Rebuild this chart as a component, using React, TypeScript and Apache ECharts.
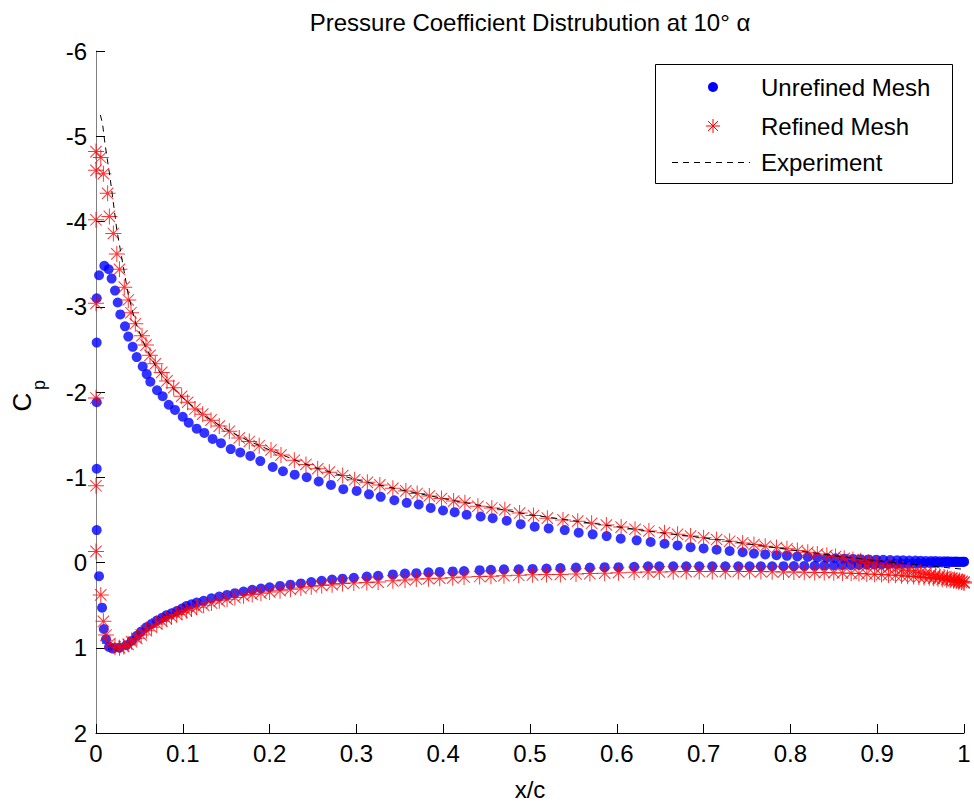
import React, { useEffect, useRef } from "react";
import * as echarts from "echarts";

const TITLE = "Pressure Coefficient Distrubution at 10° α";
const X_NAME = "x/c";
const LEGEND_LABELS = ["Unrefined Mesh", "Refined Mesh", "Experiment"];

// Unrefined mesh (blue dots) — nose region
const unrefinedNose: number[][] = [
  [0.0008, -3.10], [0.0008, -2.58], [0.0008, -1.88], [0.0008, -1.10], [0.0008, -0.38],
  [0.0035, 0.16], [0.007, 0.53], [0.009, 0.78], [0.0115, 0.90], [0.015, 0.99], [0.0196, 1.01],
];

// Unrefined mesh — upper (suction) surface
const unrefinedUpper: number[][] = [
  [0.0035, -3.37], [0.0096, -3.48], [0.0146, -3.44], [0.018, -3.33], [0.0219, -3.19], [0.025, -3.05],
  [0.028, -2.91], [0.0334, -2.77], [0.0372, -2.65], [0.0423, -2.53], [0.0469, -2.41], [0.0538, -2.30],
  [0.0584, -2.21], [0.0626, -2.12], [0.0703, -2.02], [0.0768, -1.95], [0.0838, -1.85], [0.091, -1.79],
  [0.0999, -1.71], [0.1068, -1.64], [0.116, -1.57], [0.1248, -1.52], [0.1344, -1.45], [0.144, -1.40],
  [0.1552, -1.33], [0.1662, -1.29], [0.1778, -1.25], [0.1893, -1.19], [0.2036, -1.12], [0.2154, -1.07],
  [0.2289, -1.03], [0.2427, -1.00], [0.2566, -0.95], [0.2707, -0.91], [0.2849, -0.86], [0.3003, -0.84],
  [0.3145, -0.80], [0.328, -0.77], [0.3437, -0.73], [0.358, -0.70], [0.3718, -0.68], [0.3856, -0.64],
  [0.3998, -0.61], [0.4132, -0.59], [0.427, -0.56], [0.4432, -0.54], [0.457, -0.52], [0.4732, -0.49],
  [0.4893, -0.45], [0.5054, -0.42], [0.5215, -0.40], [0.54, -0.38], [0.5561, -0.35], [0.5722, -0.33],
  [0.5883, -0.31], [0.6045, -0.28], [0.6229, -0.26], [0.639, -0.24], [0.655, -0.22], [0.67, -0.20],
  [0.685, -0.18], [0.70, -0.165], [0.715, -0.15], [0.73, -0.135], [0.745, -0.12], [0.758, -0.105],
  [0.771, -0.095], [0.784, -0.085], [0.796, -0.078], [0.808, -0.07], [0.82, -0.064], [0.831, -0.058],
  [0.842, -0.053], [0.852, -0.049], [0.862, -0.045], [0.872, -0.042], [0.881, -0.039], [0.89, -0.036],
  [0.899, -0.033], [0.907, -0.031], [0.915, -0.029], [0.923, -0.027], [0.93, -0.025], [0.937, -0.023],
  [0.944, -0.022], [0.95, -0.02], [0.956, -0.019], [0.962, -0.018], [0.967, -0.017], [0.972, -0.016],
  [0.977, -0.015], [0.981, -0.014], [0.985, -0.013], [0.989, -0.012], [0.992, -0.011], [0.995, -0.01],
  [0.998, -0.01], [1.0, -0.01],
];

// Unrefined mesh — lower (pressure) surface
const unrefinedLower: number[][] = [
  [0.027, 1.00], [0.035, 0.97], [0.041, 0.92], [0.047, 0.86], [0.052, 0.81], [0.058, 0.76],
  [0.064, 0.72], [0.07, 0.68], [0.076, 0.65], [0.081, 0.62], [0.087, 0.595], [0.093, 0.57],
  [0.099, 0.54], [0.104, 0.51], [0.11, 0.49], [0.116, 0.47], [0.124, 0.45], [0.133, 0.42],
  [0.142, 0.40], [0.151, 0.38], [0.16, 0.36], [0.17, 0.34], [0.18, 0.32], [0.19, 0.305],
  [0.2, 0.29], [0.212, 0.275], [0.224, 0.26], [0.236, 0.245], [0.248, 0.23], [0.26, 0.215],
  [0.272, 0.20], [0.284, 0.19], [0.297, 0.18], [0.312, 0.165], [0.325, 0.155], [0.342, 0.14],
  [0.356, 0.13], [0.369, 0.125], [0.383, 0.115], [0.396, 0.11], [0.411, 0.105], [0.424, 0.10],
  [0.442, 0.09], [0.455, 0.085], [0.47, 0.08], [0.487, 0.08], [0.503, 0.075], [0.519, 0.07],
  [0.535, 0.065], [0.553, 0.06], [0.569, 0.06], [0.586, 0.055], [0.602, 0.055], [0.62, 0.05],
  [0.636, 0.045], [0.649, 0.045], [0.665, 0.045], [0.68, 0.045], [0.695, 0.045], [0.71, 0.045],
  [0.725, 0.045], [0.74, 0.045], [0.753, 0.045], [0.766, 0.045], [0.779, 0.044], [0.792, 0.043],
  [0.804, 0.042], [0.816, 0.04], [0.828, 0.038], [0.839, 0.036], [0.85, 0.034], [0.86, 0.032],
  [0.87, 0.03], [0.879, 0.028], [0.888, 0.026], [0.897, 0.024], [0.905, 0.022], [0.913, 0.02],
  [0.921, 0.018], [0.928, 0.016], [0.935, 0.014], [0.942, 0.012], [0.948, 0.01], [0.954, 0.008],
  [0.96, 0.006], [0.965, 0.004], [0.97, 0.002], [0.975, 0.0], [0.98, -0.002], [0.984, -0.004],
  [0.988, -0.005], [0.991, -0.006], [0.994, -0.007], [0.997, -0.008], [1.0, -0.01],
];

// Refined mesh (red asterisks) — nose region
const refinedNose: number[][] = [
  [0.0, -4.82], [0.0055, -4.75], [0.0, -4.60], [0.0085, -4.56], [0.0, -4.02], [0.0, -3.04],
  [0.0, -1.93], [0.0, -0.90], [0.0, -0.13], [0.0055, 0.38], [0.0085, 0.69], [0.0115, 0.85],
  [0.016, 0.95], [0.0219, 0.99],
];

// Refined mesh — upper surface
const refinedUpper: number[][] = [
  [0.0134, -4.33], [0.0154, -4.06], [0.02, -3.86], [0.024, -3.62], [0.027, -3.44], [0.0326, -3.23],
  [0.0372, -3.08], [0.0403, -2.93], [0.0453, -2.80], [0.053, -2.66], [0.0576, -2.55], [0.0622, -2.43],
  [0.0683, -2.33], [0.0757, -2.23], [0.0818, -2.13], [0.0895, -2.05], [0.0987, -1.95], [0.1056, -1.88],
  [0.114, -1.80], [0.1229, -1.74], [0.1325, -1.67], [0.142, -1.60], [0.1536, -1.54], [0.165, -1.46],
  [0.1766, -1.42], [0.188, -1.37], [0.2016, -1.32], [0.2131, -1.26], [0.2285, -1.20], [0.2419, -1.15],
  [0.2554, -1.10], [0.2688, -1.06], [0.2842, -1.02], [0.298, -0.97], [0.3126, -0.94], [0.327, -0.91],
  [0.342, -0.87], [0.357, -0.84], [0.37, -0.81], [0.384, -0.78], [0.398, -0.75], [0.412, -0.72],
  [0.425, -0.70], [0.44, -0.66], [0.456, -0.64], [0.471, -0.62], [0.488, -0.58], [0.504, -0.55],
  [0.52, -0.52], [0.538, -0.50], [0.555, -0.485], [0.571, -0.46], [0.588, -0.44], [0.605, -0.415],
  [0.621, -0.39], [0.637, -0.37], [0.655, -0.35], [0.67, -0.33], [0.685, -0.31], [0.70, -0.29],
  [0.715, -0.27], [0.73, -0.25], [0.745, -0.23], [0.758, -0.21], [0.771, -0.19], [0.784, -0.175],
  [0.796, -0.16], [0.808, -0.14], [0.82, -0.12], [0.831, -0.10], [0.842, -0.085], [0.852, -0.07],
  [0.862, -0.05], [0.872, -0.035], [0.881, -0.02], [0.89, 0.0], [0.899, 0.015], [0.907, 0.03],
  [0.915, 0.045], [0.923, 0.06], [0.93, 0.075], [0.937, 0.09], [0.944, 0.10], [0.95, 0.115],
  [0.956, 0.125], [0.962, 0.14], [0.967, 0.15], [0.972, 0.16], [0.977, 0.17], [0.981, 0.18],
  [0.985, 0.19], [0.989, 0.20], [0.992, 0.205], [0.995, 0.21], [0.998, 0.22], [1.0, 0.23],
];

// Refined mesh — lower surface
const refinedLower: number[][] = [
  [0.027, 1.0], [0.032, 0.985], [0.037, 0.96], [0.041, 0.93], [0.047, 0.89], [0.052, 0.85],
  [0.058, 0.80], [0.064, 0.76], [0.07, 0.72], [0.076, 0.69], [0.081, 0.66], [0.087, 0.635],
  [0.093, 0.61], [0.099, 0.585], [0.104, 0.565], [0.11, 0.545], [0.116, 0.525], [0.124, 0.50],
  [0.133, 0.475], [0.142, 0.45], [0.151, 0.43], [0.16, 0.41], [0.17, 0.39], [0.18, 0.375],
  [0.19, 0.36], [0.2, 0.345], [0.212, 0.33], [0.224, 0.315], [0.236, 0.30], [0.248, 0.285],
  [0.26, 0.27], [0.272, 0.26], [0.284, 0.245], [0.297, 0.24], [0.312, 0.235], [0.325, 0.23],
  [0.342, 0.215], [0.356, 0.205], [0.369, 0.195], [0.383, 0.19], [0.396, 0.185], [0.411, 0.18],
  [0.424, 0.17], [0.442, 0.165], [0.455, 0.16], [0.47, 0.155], [0.487, 0.15], [0.503, 0.145],
  [0.519, 0.14], [0.535, 0.14], [0.553, 0.135], [0.569, 0.13], [0.586, 0.125], [0.602, 0.12],
  [0.62, 0.115], [0.636, 0.11], [0.649, 0.11], [0.665, 0.108], [0.68, 0.107], [0.695, 0.106],
  [0.71, 0.105], [0.725, 0.105], [0.74, 0.105], [0.753, 0.106], [0.766, 0.107], [0.779, 0.108],
  [0.792, 0.11], [0.804, 0.112], [0.816, 0.114], [0.828, 0.116], [0.839, 0.118], [0.85, 0.12],
  [0.86, 0.123], [0.87, 0.126], [0.879, 0.13], [0.888, 0.134], [0.897, 0.138], [0.905, 0.142],
  [0.913, 0.146], [0.921, 0.15], [0.928, 0.155], [0.935, 0.16], [0.942, 0.165], [0.948, 0.17],
  [0.954, 0.175], [0.96, 0.18], [0.965, 0.185], [0.97, 0.19], [0.975, 0.196], [0.98, 0.202],
  [0.984, 0.208], [0.988, 0.214], [0.991, 0.22], [0.994, 0.226], [0.997, 0.232], [1.0, 0.24],
];

// Experiment (upper surface, dashed)
const experiment: number[][] = [
  [0.005, -5.25], [0.0075, -5.15], [0.0105, -4.9], [0.016, -4.53], [0.02, -4.22], [0.024, -3.9],
  [0.028, -3.67], [0.033, -3.38], [0.037, -3.15], [0.045, -2.83], [0.056, -2.55], [0.07, -2.28],
  [0.085, -2.08], [0.1, -1.93], [0.125, -1.72], [0.15, -1.56], [0.175, -1.43], [0.2, -1.32],
  [0.25, -1.12], [0.3, -0.97], [0.35, -0.855], [0.4, -0.75], [0.45, -0.655], [0.5, -0.56],
  [0.55, -0.49], [0.6, -0.42], [0.65, -0.35], [0.7, -0.29], [0.75, -0.22], [0.8, -0.15],
  [0.85, -0.08], [0.9, -0.02], [0.95, 0.03], [1.0, 0.08],
];

const FONT = '"Liberation Sans", Arial, Helvetica, sans-serif';
const FS = 24;
const BLUE = "#0000ff";
const RED = "#ff0000";
const ASTERISK =
  "path://M0,7.5H16V8.5H0Z M7.5,0H8.5V16H7.5Z M2.65,1.95L14.05,13.35L13.35,14.05L1.95,2.65Z M13.35,1.95L14.05,2.65L2.65,14.05L1.95,13.35Z";

export default function App() {
  const ref = useRef<HTMLDivElement>(null);

  useEffect(() => {
    if (!ref.current) return;
    const chart = echarts.init(ref.current, undefined, { renderer: "svg" });
    const dotStyle = { color: BLUE };
    const starStyle = { color: RED };
    const dot = { type: "scatter", symbol: "circle", symbolSize: 10, itemStyle: dotStyle, clip: false };
    const star = { type: "scatter", symbol: ASTERISK, symbolSize: 16, itemStyle: starStyle, clip: false };
    chart.setOption({
      animation: false,
      backgroundColor: "#ffffff",
      title: {
        text: TITLE,
        left: 530,
        top: 10,
        textAlign: "center",
        padding: 0,
        textStyle: { fontFamily: FONT, fontSize: FS, fontWeight: "normal", color: "#000" },
      },
      grid: { left: 96, right: 10, top: 51, bottom: 72, containLabel: false },
      xAxis: {
        type: "value",
        min: 0,
        max: 1,
        interval: 0.1,
        name: X_NAME,
        nameLocation: "middle",
        nameGap: 44,
        nameTextStyle: { fontFamily: FONT, fontSize: FS, color: "#000" },
        axisLine: { show: true, onZero: false, lineStyle: { color: "#000", width: 1 } },
        axisTick: { show: true, inside: true, length: 9, lineStyle: { color: "#000" } },
        axisLabel: { fontFamily: FONT, fontSize: FS, color: "#000", margin: 8 },
        splitLine: { show: false },
      },
      yAxis: {
        type: "value",
        inverse: true,
        min: -6,
        max: 2,
        interval: 1,
        axisLine: { show: true, onZero: false, lineStyle: { color: "#808080", width: 1 } },
        axisTick: { show: true, inside: true, length: 9, lineStyle: { color: "#000" } },
        axisLabel: { fontFamily: FONT, fontSize: FS, color: "#000", margin: 9 },
        splitLine: { show: false },
      },
      series: [
        { ...dot, name: LEGEND_LABELS[0], data: unrefinedNose },
        { ...dot, name: LEGEND_LABELS[0], data: unrefinedUpper },
        { ...dot, name: LEGEND_LABELS[0], data: unrefinedLower },
        { ...star, name: LEGEND_LABELS[1], data: refinedNose },
        { ...star, name: LEGEND_LABELS[1], data: refinedUpper },
        { ...star, name: LEGEND_LABELS[1], data: refinedLower },
        {
          type: "line",
          name: LEGEND_LABELS[2],
          data: experiment,
          showSymbol: false,
          symbol: "none",
          lineStyle: { color: "#000", width: 1, type: [6, 5] },
          clip: false,
          z: 5,
        },
      ],
      graphic: [
        {
          type: "rect",
          z: 100,
          shape: { x: 655.5, y: 64.5, width: 297, height: 119 },
          style: { fill: "#fff", stroke: "#000", lineWidth: 1 },
        },
        { type: "circle", z: 101, shape: { cx: 713, cy: 87, r: 5 }, style: { fill: BLUE } },
        { type: "line", z: 101, shape: { x1: 706, y1: 126, x2: 720, y2: 126 }, style: { stroke: RED, lineWidth: 1 } },
        { type: "line", z: 101, shape: { x1: 713, y1: 119, x2: 713, y2: 133 }, style: { stroke: RED, lineWidth: 1 } },
        { type: "line", z: 101, shape: { x1: 708, y1: 121, x2: 718, y2: 131 }, style: { stroke: RED, lineWidth: 1 } },
        { type: "line", z: 101, shape: { x1: 718, y1: 121, x2: 708, y2: 131 }, style: { stroke: RED, lineWidth: 1 } },
        {
          type: "line",
          z: 101,
          shape: { x1: 672, y1: 162.5, x2: 750, y2: 162.5 },
          style: { stroke: "#000", lineWidth: 1, lineDash: [6, 5] },
        },
        ...LEGEND_LABELS.map((t, i) => ({
          type: "text",
          z: 101,
          x: 761,
          y: [87, 126, 162][i],
          style: { text: t, fontFamily: FONT, fontSize: FS, fill: "#000", align: "left", verticalAlign: "middle" },
        })),
        {
          type: "text",
          z: 101,
          x: 22,
          y: 402,
          rotation: Math.PI / 2,
          style: { text: "C", fontFamily: FONT, fontSize: 26, fill: "#000", align: "center", verticalAlign: "middle" },
        },
        {
          type: "text",
          z: 101,
          x: 39,
          y: 385,
          rotation: Math.PI / 2,
          style: { text: "p", fontFamily: FONT, fontSize: 18, fill: "#000", align: "center", verticalAlign: "middle" },
        },
      ],
    });
    return () => chart.dispose();
  }, []);

  return (
    <div
      ref={ref}
      style={{ position: "absolute", left: 0, top: 0, width: 974, height: 806, background: "#fff" }}
    />
  );
}
